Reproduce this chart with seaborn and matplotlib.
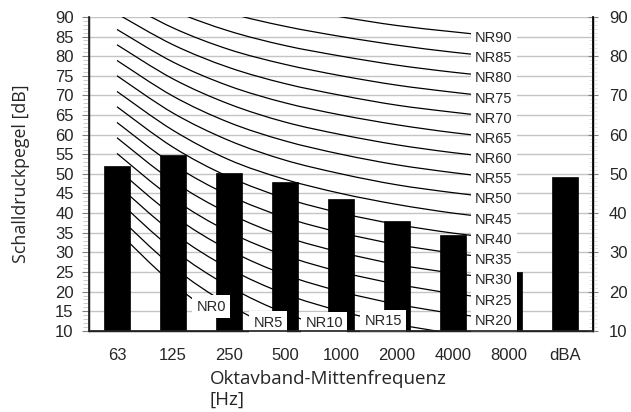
import matplotlib
matplotlib.use("Agg")
import matplotlib.pyplot as plt
import seaborn as sns
import pandas as pd
from matplotlib.ticker import MultipleLocator
from matplotlib.path import Path
from matplotlib.patches import PathPatch

# octave bands and measured levels
freq_labels = ["63", "125", "250", "500", "1000", "2000", "4000", "8000", "dBA"]
band_levels = [52.0, 54.7, 50.3, 48.0, 43.6, 37.9, 34.5, 25.0, 49.2]

# NR curves, values at 63 ... 8000 Hz
nr_levels = [0, 5, 10, 15, 20, 25, 30, 35, 40, 45, 50, 55, 60, 65, 70, 75, 80, 85, 90]
nr_curves = [
    [35.5, 22.0, 12.0, 4.8, 0.0, -3.5, -6.1, -8.0],
    [39.4, 26.3, 16.6, 9.7, 5.0, 1.6, -1.0, -2.8],
    [43.4, 30.7, 21.3, 14.5, 10.0, 6.6, 4.2, 2.3],
    [47.3, 35.0, 25.9, 19.4, 15.0, 11.7, 9.3, 7.4],
    [51.3, 39.4, 30.6, 24.3, 20.0, 16.8, 14.4, 12.6],
    [55.2, 43.7, 35.2, 29.2, 25.0, 21.9, 19.5, 17.7],
    [59.2, 48.1, 39.9, 34.0, 30.0, 26.9, 24.7, 22.9],
    [63.1, 52.4, 44.5, 38.9, 35.0, 32.0, 29.8, 28.0],
    [67.1, 56.8, 49.2, 43.8, 40.0, 37.1, 34.9, 33.2],
    [71.0, 61.1, 53.6, 48.6, 45.0, 42.2, 40.0, 38.3],
    [75.0, 65.5, 58.5, 53.5, 50.0, 47.2, 45.2, 43.5],
    [78.9, 69.8, 63.1, 58.4, 55.0, 52.3, 50.3, 48.6],
    [82.9, 74.2, 67.8, 63.2, 60.0, 57.4, 55.4, 53.8],
    [86.8, 78.5, 72.4, 68.1, 65.0, 62.5, 60.5, 58.9],
    [90.8, 82.9, 77.1, 73.0, 70.0, 67.5, 65.7, 64.1],
    [94.7, 87.2, 81.7, 77.9, 75.0, 72.6, 70.8, 69.2],
    [98.7, 91.6, 86.4, 82.7, 80.0, 77.7, 75.9, 74.4],
    [102.6, 95.9, 91.0, 87.6, 85.0, 82.8, 81.0, 79.5],
    [106.6, 100.3, 95.7, 92.5, 90.0, 87.8, 86.2, 84.7],
]

# where the labels of the low curves sit (they leave the chart early)
low_label_pos = {0: (1.68, 16.2), 5: (2.70, 12.1), 10: (3.70, 12.0), 15: (4.75, 12.5)}


def smooth_path(xs, ys):
    # bezier path through the points, like a spreadsheet "smoothed line"
    pts = list(zip(xs, ys))
    verts = [pts[0]]
    codes = [Path.MOVETO]
    n = len(pts)
    for i in range(n - 1):
        p0 = pts[max(i - 1, 0)]
        p1 = pts[i]
        p2 = pts[i + 1]
        p3 = pts[min(i + 2, n - 1)]
        c1 = (p1[0] + (p2[0] - p0[0]) / 6, p1[1] + (p2[1] - p0[1]) / 6)
        c2 = (p2[0] - (p3[0] - p1[0]) / 6, p2[1] - (p3[1] - p1[1]) / 6)
        verts += [c1, c2, p2]
        codes += [Path.CURVE4] * 3
    return Path(verts, codes)


sns.set_theme(style="white")
plt.rcParams['font.family'] = ['Liberation Sans', 'DejaVu Sans']

fig, ax = plt.subplots(figsize=(6.31, 4.12), dpi=100)
fig.subplots_adjust(left=0.141, right=0.940, top=0.959, bottom=0.197)

df = pd.DataFrame({"freq": freq_labels, "level": band_levels})
sns.barplot(data=df, x="freq", y="level", color="black", saturation=1,
            width=0.46, edgecolor="black", linewidth=0.5, ax=ax, zorder=3)

for lvl, vals in zip(nr_levels, nr_curves):
    curve = PathPatch(smooth_path(range(len(vals)), vals), fill=False,
                      edgecolor="black", lw=0.9, zorder=2)
    ax.add_patch(curve)

box = dict(boxstyle="square,pad=0.3", fc="white", ec="none")
for lvl, vals in zip(nr_levels, nr_curves):
    if lvl in low_label_pos:
        x, y = low_label_pos[lvl]
        ax.text(x, y, f"NR{lvl}", ha="center", va="center", fontsize=10.5,
                bbox=box, zorder=5)
    else:
        ax.annotate(f"NR{lvl}", xy=(7, vals[7]), xytext=(-11, 0),
                    textcoords="offset points", ha="center", va="center",
                    fontsize=10.5, bbox=box, zorder=5)

ax.set_xlim(-0.5, len(freq_labels) - 0.5)
ax.set_ylim(10, 90)
ax.yaxis.set_major_locator(MultipleLocator(5))
ax.yaxis.set_minor_locator(MultipleLocator(1))
ax.grid(axis="y", which="major", color="#c4c4c4", lw=1)
ax.grid(axis="x", visible=False)
ax.set_axisbelow(True)

ax.tick_params(axis="y", which="major", left=True, length=5, width=0.8,
               color="#808080", pad=6, labelsize=12)
ax.tick_params(axis="y", which="minor", left=True, length=4, width=0.5,
               color="#b8b8b8")
ax.tick_params(axis="x", length=0, pad=12, labelsize=12)

for side in ["left", "bottom", "right"]:
    ax.spines[side].set_color("black")
    ax.spines[side].set_linewidth(1)
ax.spines["top"].set_visible(False)

ax2 = ax.twinx()
ax2.set_ylim(10, 90)
ax2.yaxis.set_major_locator(MultipleLocator(10))
ax2.yaxis.set_minor_locator(MultipleLocator(1))
ax2.tick_params(axis="y", which="major", right=True, direction="inout",
                length=7, width=0.8, color="#808080", pad=8, labelsize=12)
ax2.tick_params(axis="y", which="minor", right=True, direction="inout",
                length=6, width=0.4, color="#c8c8c8")
ax2.spines["top"].set_visible(False)
ax2.spines["right"].set_color("black")
ax2.grid(False)

ax.set_ylabel("Schalldruckpegel [dB]", fontfamily="Open Sans", fontsize=12.8)
ax.yaxis.set_label_coords(-0.117, 0.5)
ax.set_xlabel("Oktavband-Mittenfrequenz\n[Hz]", fontfamily="Open Sans",
              fontsize=13.5, ha="left", multialignment="left")
ax.xaxis.set_label_coords(0.240, -0.125)

fig.savefig("out.png", dpi=100)
